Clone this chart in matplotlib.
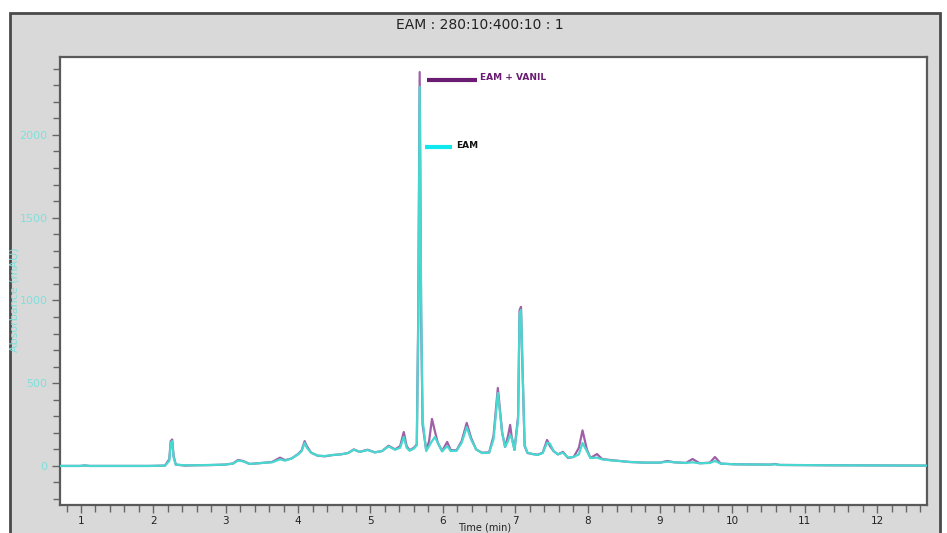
import matplotlib
matplotlib.use('Agg')
import matplotlib.pyplot as plt
from matplotlib.patches import Rectangle
from matplotlib.ticker import MultipleLocator

# retention time (min) and absorbance (mAU)
time = [0.71, 0.99, 1.05, 1.12, 1.95, 2.16, 2.22, 2.24, 2.26, 2.28,
        2.31, 2.44, 2.57, 2.78, 2.99, 3.10, 3.17, 3.24, 3.33, 3.50,
        3.64, 3.75, 3.82, 3.91, 4.00, 4.05, 4.09, 4.12, 4.18, 4.27,
        4.37, 4.48, 4.59, 4.69, 4.77, 4.85, 4.96, 5.06, 5.16, 5.25,
        5.34, 5.41, 5.46, 5.50, 5.54, 5.60, 5.64, 5.66, 5.68, 5.70,
        5.72, 5.77, 5.81, 5.85, 5.89, 5.93, 5.99, 6.06, 6.11, 6.19,
        6.26, 6.33, 6.39, 6.46, 6.54, 6.64, 6.70, 6.76, 6.82, 6.86,
        6.90, 6.93, 6.95, 6.99, 7.04, 7.06, 7.08, 7.10, 7.13, 7.17,
        7.24, 7.31, 7.38, 7.44, 7.48, 7.53, 7.59, 7.66, 7.73, 7.81,
        7.88, 7.93, 7.99, 8.04, 8.13, 8.20, 8.31, 8.44, 8.58, 8.79,
        9.00, 9.10, 9.20, 9.36, 9.45, 9.55, 9.69, 9.76, 9.84, 10.03,
        10.52, 10.59, 10.65, 11.35, 12.04, 12.69]

eam_vanil = [0, 0, 3, 0, 0, 2, 40, 150, 160, 60,
             8, 2, 4, 5, 8, 15, 36, 30, 12, 18,
             24, 50, 35, 45, 72, 95, 150, 120, 80, 62,
             58, 66, 70, 78, 100, 85, 98, 82, 90, 122,
             100, 120, 205, 120, 95, 110, 130, 900, 2380, 900,
             250, 95, 150, 284, 210, 140, 90, 145, 95, 95,
             150, 260, 170, 100, 80, 82, 180, 471, 200, 115,
             180, 248, 180, 97, 300, 940, 961, 600, 120, 78,
             72, 68, 80, 157, 120, 90, 70, 85, 48, 55,
             110, 215, 100, 48, 72, 42, 36, 30, 24, 20,
             20, 30, 22, 18, 42, 16, 20, 54, 14, 10,
             8, 12, 6, 4, 3, 2]

eam = [0, 0, 3, 0, 0, 2, 30, 140, 150, 50,
       8, 4, 4, 6, 8, 14, 32, 28, 12, 18,
       22, 40, 32, 45, 70, 90, 140, 110, 80, 62,
       60, 66, 70, 78, 98, 85, 96, 82, 90, 118,
       98, 110, 175, 110, 92, 105, 125, 850, 2290, 1000,
       280, 90, 120, 150, 175, 140, 88, 120, 90, 92,
       140, 235, 160, 100, 78, 80, 160, 441, 200, 115,
       150, 187, 170, 97, 280, 920, 943, 620, 125, 80,
       72, 66, 78, 140, 135, 90, 70, 80, 50, 55,
       70, 139, 90, 48, 50, 40, 34, 30, 24, 20,
       20, 26, 22, 18, 22, 16, 18, 30, 14, 10,
       8, 10, 6, 4, 3, 2]

title = 'EAM : 280:10:400:10 : 1'

fig = plt.figure(figsize=(9.47, 5.33), dpi=100, facecolor='white')

# grey instrument panel behind the plot
panel = Rectangle((10 / 947, -0.01), 930 / 947, (533 - 13) / 533 + 0.01,
                  transform=fig.transFigure, facecolor='#d9d9d9',
                  edgecolor='#4a4a4a', linewidth=2, zorder=-1)
fig.patches.append(panel)

fig.text(480 / 947, 1 - 25 / 533, title, ha='center', va='center',
         fontsize=10, color='#222222')

ax = fig.add_axes([60 / 947, 1 - 505 / 533, 867 / 947, 448 / 533])
ax.set_zorder(1)
ax.set_facecolor('white')

ax.plot(time, eam_vanil, color='#a060a8', linewidth=1.6, zorder=2)
ax.plot(time, eam, color='#48d8d0', linewidth=1.6, zorder=3)

# legend-style markers
ax.plot([5.78, 6.47], [2332, 2332], color='#6a1b72', linewidth=3,
        solid_capstyle='butt')
ax.text(6.51, 2345, 'EAM + VANIL', color='#6a1b72', fontsize=6.5,
        fontweight='bold', va='center')
ax.plot([5.75, 6.12], [1927, 1927], color='#10e8f0', linewidth=3,
        solid_capstyle='butt')
ax.text(6.19, 1935, 'EAM', color='#111111', fontsize=6.5,
        fontweight='bold', va='center')

ax.set_xlim(0.71, 12.69)
ax.set_ylim(-236, 2471)

ax.xaxis.set_major_locator(MultipleLocator(1))
ax.xaxis.set_minor_locator(MultipleLocator(0.2))
ax.yaxis.set_major_locator(MultipleLocator(500))
ax.yaxis.set_minor_locator(MultipleLocator(100))

ax.tick_params(axis='both', which='both', direction='out', color='#666666')
ax.tick_params(axis='both', which='major', length=6, width=1)
ax.tick_params(axis='both', which='minor', length=5, width=1)
ax.tick_params(axis='x', labelsize=7.5, labelcolor='#222222', pad=2)
ax.tick_params(axis='y', labelsize=8, labelcolor='#7fe0dc', pad=3)

for spine in ax.spines.values():
    spine.set_color('#5a5a5a')
    spine.set_linewidth(1.6)

fig.text(15 / 947, 1 - 300 / 533, 'Absorbance (mAU)', rotation=90,
         ha='center', va='center', fontsize=8, color='#7fe0dc')
fig.text(485 / 947, 1 - 527 / 533, 'Time (min)', ha='center',
         va='center', fontsize=7, color='#222222')

fig.savefig('out.png', dpi=100, facecolor=fig.get_facecolor())
